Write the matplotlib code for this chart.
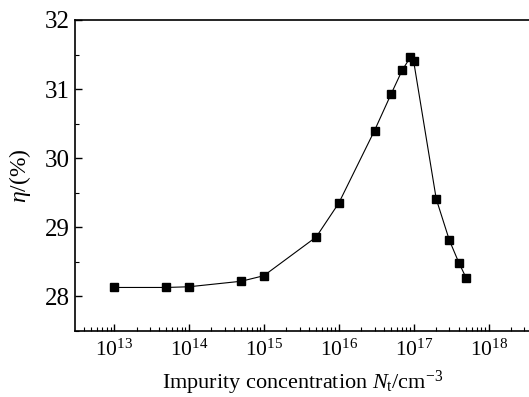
import matplotlib
matplotlib.use("Agg")
import matplotlib.pyplot as plt
from matplotlib.ticker import FixedLocator, LogLocator, MultipleLocator, NullFormatter

plt.rcParams['font.family'] = ['Liberation Serif', 'DejaVu Serif']
plt.rcParams['mathtext.fontset'] = 'custom'
plt.rcParams['mathtext.rm'] = 'Liberation Serif'
plt.rcParams['mathtext.it'] = 'Liberation Serif:italic'

# impurity concentration (cm^-3) and efficiency (%)
nt = [1e13, 5e13, 1e14, 5e14, 1e15, 5e15, 1e16, 3e16, 5e16, 7e16, 9e16, 1e17,
      2e17, 3e17, 4e17, 5e17]
eta = [28.13, 28.13, 28.14, 28.22, 28.30, 28.86, 29.35, 30.40, 30.93, 31.27,
       31.46, 31.40, 29.41, 28.81, 28.49, 28.27]
decades = [1e13, 1e14, 1e15, 1e16, 1e17, 1e18]
decade_labels = [r'$10^{13}$', r'$10^{14}$', r'$10^{15}$', r'$10^{16}$',
                 r'$10^{17}$', r'$10^{18}$']

fig = plt.figure(figsize=(5.29, 3.97), dpi=100)
ax = fig.add_axes([75 / 529, 1 - 331 / 397, 1.0 - 75 / 529 + 0.003, 311 / 397])

ax.plot(nt, eta, color='black', lw=0.8, marker='s', ms=5.2, mfc='black', mec='black')

ax.set_xscale('log')
ax.set_xlim(10 ** 12.48, 10 ** 18.56)
ax.set_ylim(27.5, 32)

ax.xaxis.set_major_locator(FixedLocator(decades))
ax.set_xticklabels(decade_labels)
ax.xaxis.set_minor_locator(LogLocator(base=10, subs=range(2, 10), numticks=100))
ax.xaxis.set_minor_formatter(NullFormatter())
ax.yaxis.set_major_locator(MultipleLocator(1))
ax.yaxis.set_minor_locator(MultipleLocator(0.5))

ax.tick_params(which='both', direction='in', top=False, right=False)
ax.tick_params(which='major', length=5, width=1)
ax.tick_params(which='minor', length=3, width=0.8)
ax.tick_params(axis='x', which='major', labelsize=15.5, pad=6)
ax.tick_params(axis='y', which='major', labelsize=18, pad=4)

for s in ax.spines.values():
    s.set_linewidth(1.2)

ax.set_xlabel(r'Impurity concentration $N_\mathrm{t}$/cm$^{-3}$', fontsize=16, labelpad=6)
ax.set_ylabel(r'$\eta$/(%)', fontsize=17, labelpad=8)

fig.savefig('out.png', dpi=100)
